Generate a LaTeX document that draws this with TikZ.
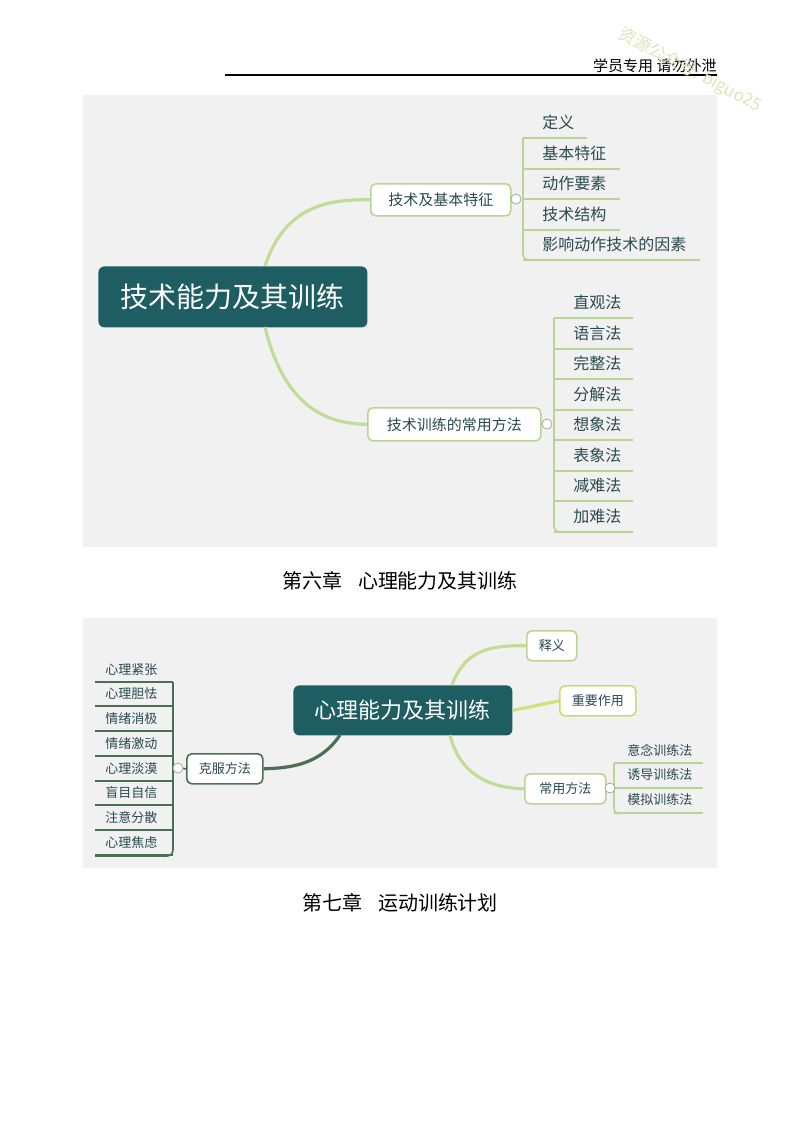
\documentclass[tikz,border=0pt]{standalone}
\usepackage{fontspec}
\setmainfont{Noto Sans CJK SC}
\begin{document}
\begin{tikzpicture}[x=0.5pt,y=-0.5pt,
  every node/.style={inner sep=0pt},
  root/.style={fill=teal1,rounded corners=3pt,text=white,anchor=north west},
  br/.style={draw=lg,line width=0.8pt,fill=white,rounded corners=2.5pt,text=txt,anchor=north west},
  leaf/.style={text=txt},
  ul/.style={draw=lg,line width=0.8pt},
  uld/.style={draw=dg,line width=0.8pt},
  conn/.style={draw=lg2,line width=1.6pt},
  tog/.style={circle,draw=gray!70,fill=white,minimum size=5pt,inner sep=0pt}]
\definecolor{teal1}{HTML}{1E5E62}
\definecolor{lg}{HTML}{B8D595}
\definecolor{lg2}{HTML}{C2DC98}
\definecolor{dg}{HTML}{4C6E55}
\definecolor{txt}{HTML}{2A4A50}
\definecolor{bgc}{HTML}{F1F1F1}
\useasboundingbox (0,0) rectangle (800,1132);
\fill[white] (0,0) rectangle (800,1132);
% header
\draw[line width=0.6pt] (225,75) -- (717,75);
\node[anchor=south east,font=\fontsize{7.5pt}{9pt}\selectfont] (hdr) at (717,73) {学员专用 请勿外泄};
\node[rotate=-28,text=yellow!60!black!30,font=\fontsize{8.5pt}{10pt}\selectfont] (wm) at (690,70) {资源公众号: biguo25};
% ---------- map 1
\fill[bgc] (83,95) rectangle (717,547);
\node[root,minimum width=134.5pt,minimum height=30.5pt,font=\fontsize{14pt}{16pt}\selectfont] (r1) at (98,266) {技术能力及其训练};
\node[br,minimum width=70pt,minimum height=16pt,font=\fontsize{7.5pt}{9pt}\selectfont] (b1) at (370,183) {技术及基本特征};
\node[br,minimum width=86.5pt,minimum height=16.5pt,font=\fontsize{7.5pt}{9pt}\selectfont] (b2) at (367,407) {技术训练的常用方法};
\coordinate (r1t) at (265,266);
\coordinate (r1b) at (265,327);
\draw[conn] (r1t) .. controls (285,205) and (330,199) .. (b1.west);
\draw[conn] (r1b) .. controls (285,410) and (330,424) .. (b2.west);
\draw[ul] (b1.east) -- (516,199);
\draw[ul] (b2.east) -- (547,424);
% leaves 1
\begin{scope}[font=\fontsize{8pt}{10pt}\selectfont]
\foreach \t/\y/\e [count=\i] in {定义/122/587,基本特征/153/620,动作要素/183/620,技术结构/214/620,影响动作技术的因素/244/700}{
  \node[leaf,anchor=west] (la\i) at (542,\y) {\t};
  \draw[ul] (523,\y+16) -- (\e,\y+16);
}
\draw[ul,rounded corners=3pt] (523,138) -- (523,260) -- (530,260);
\foreach \t/\y [count=\i] in {直观法/302,语言法/333,完整法/363,分解法/394,想象法/424,表象法/455,减难法/485,加难法/516}{
  \node[leaf,anchor=west] (lb\i) at (573,\y) {\t};
  \draw[ul] (554,\y+16) -- (633,\y+16);
}
\draw[ul,rounded corners=3pt] (554,318) -- (554,532) -- (560,532);
\end{scope}
\node[tog] (t1) at (516,199) {};
\node[tog] (t2) at (547,424) {};
\node[font=\fontsize{10pt}{12pt}\selectfont] (h6) at (400,581) {第六章\hspace{0.8em}心理能力及其训练};
% ---------- map 2
\fill[bgc] (83,618) rectangle (717,868);
\node[root,minimum width=109.5pt,minimum height=25pt,font=\fontsize{11pt}{13pt}\selectfont] (r2) at (293,685) {心理能力及其训练};
\node[br,minimum width=25pt,minimum height=15pt,font=\fontsize{6.5pt}{8pt}\selectfont] (c1) at (526,630) {释义};
\node[br,draw=lg!80!yellow,minimum width=38pt,minimum height=15pt,font=\fontsize{6.5pt}{8pt}\selectfont] (c2) at (559,685) {重要作用};
\node[br,minimum width=40.5pt,minimum height=15pt,font=\fontsize{6.5pt}{8pt}\selectfont] (c3) at (524,773) {常用方法};
\node[br,draw=dg,minimum width=38pt,minimum height=15pt,font=\fontsize{6.5pt}{8pt}\selectfont] (c4) at (186,753) {克服方法};
\coordinate (r2a) at (452,685);
\coordinate (r2c) at (450,735);
\coordinate (r2d) at (340,735);
\draw[conn] (r2a) .. controls (465,650) and (490,645) .. (c1.west);
\draw[conn,draw=lg2!80!yellow] (r2.east) -- (c2.west);
\draw[conn] (r2c) .. controls (460,775) and (490,788) .. (c3.west);
\draw[conn,draw=dg] (r2d) .. controls (320,765) and (290,768) .. (c4.east);
\draw[ul] (c3.east) -- (610,788);
\draw[uld] (c4.west) -- (178,768);
\begin{scope}[font=\fontsize{6.5pt}{8pt}\selectfont]
\foreach \t/\y [count=\i] in {意念训练法/750,诱导训练法/775,模拟训练法/800}{
  \node[leaf,anchor=west] (lc\i) at (627,\y) {\t};
  \draw[ul] (614,\y+13) -- (703,\y+13);
}
\draw[ul,rounded corners=3pt] (614,763) -- (614,814) -- (620,814);
\foreach \t/\y [count=\i] in {心理紧张/670,心理胆怯/694,情绪消极/719,情绪激动/744,心理淡漠/769,盲目自信/793,注意分散/818,心理焦虑/843}{
  \node[leaf,anchor=west] (ld\i) at (105,\y) {\t};
  \draw[uld] (95,\y+12) -- (173,\y+12);
}
\draw[uld,rounded corners=3pt] (173,682) -- (173,856) -- (95,856);
\end{scope}
\node[tog] (t3) at (610,788) {};
\node[tog] (t4) at (178,768) {};
\node[font=\fontsize{10pt}{12pt}\selectfont] (h7) at (400,903) {第七章\hspace{0.8em}运动训练计划};
\end{tikzpicture}
\end{document}
